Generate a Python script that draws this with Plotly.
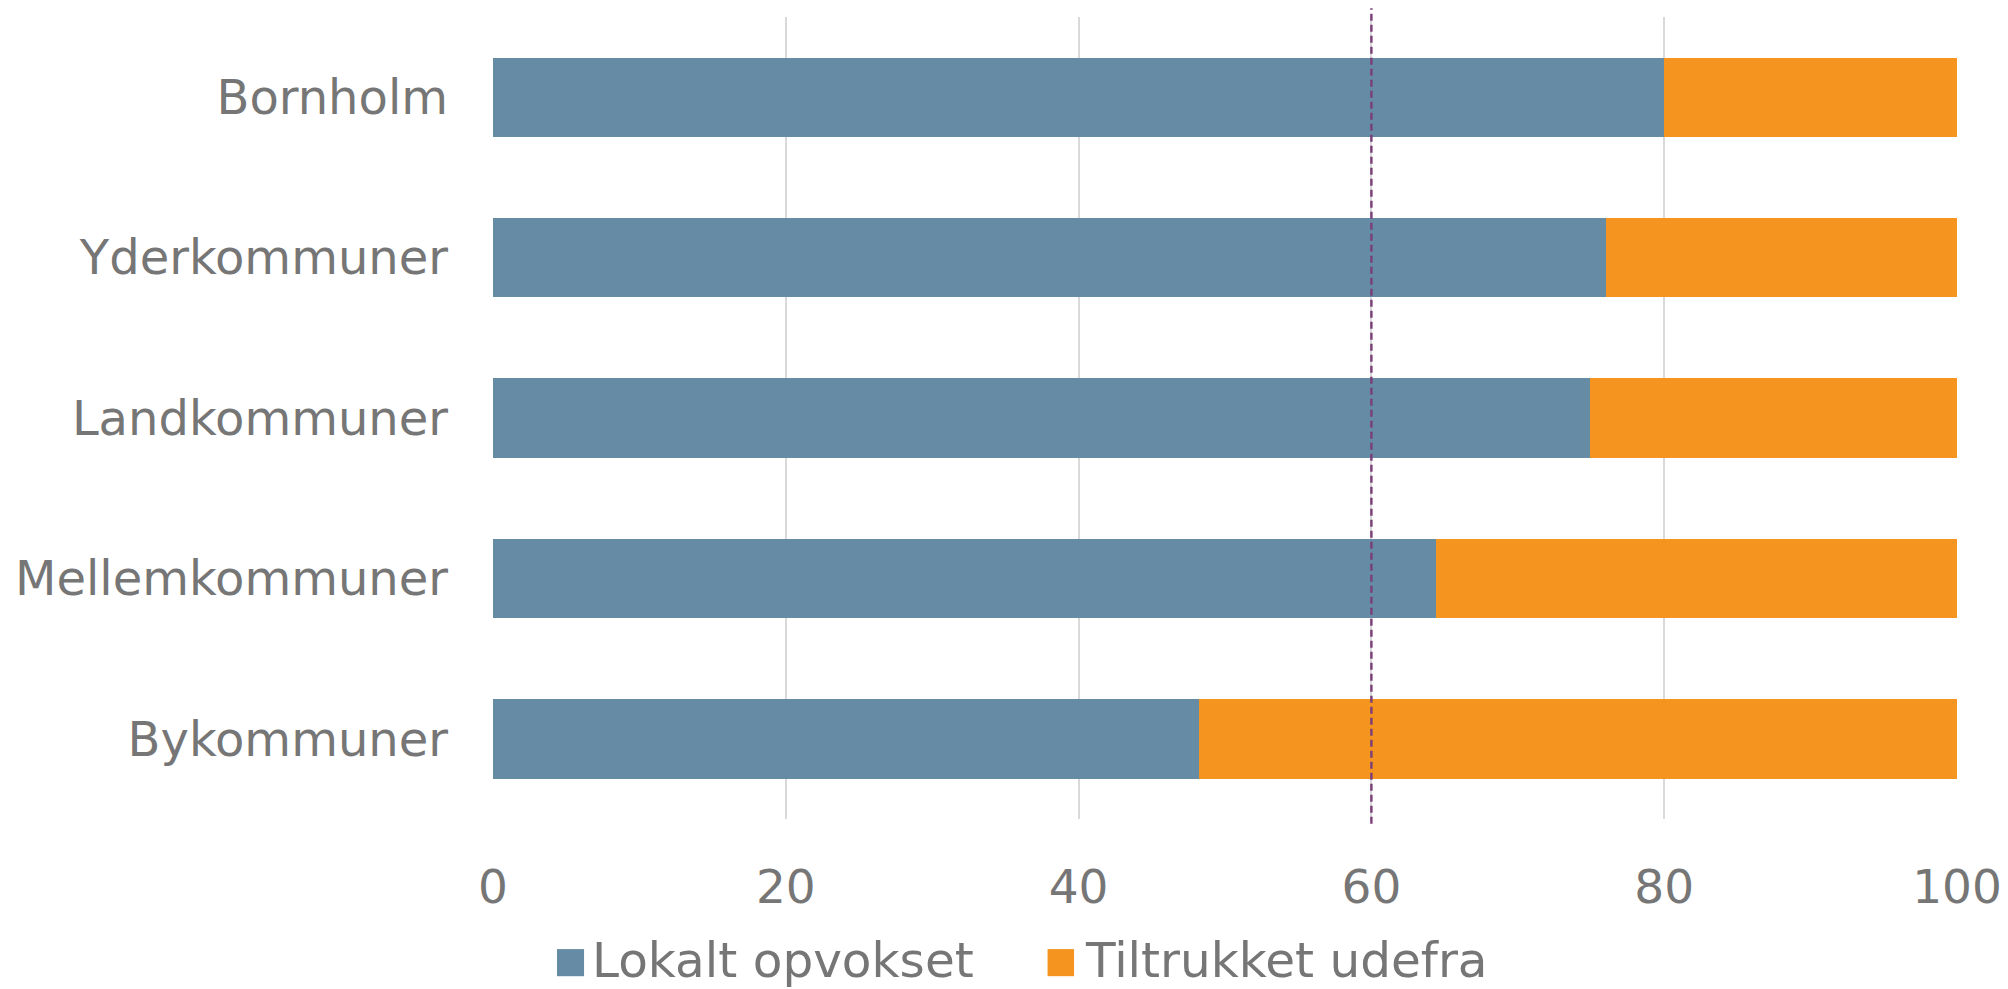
import plotly.graph_objects as go

categories = ["Bornholm", "Yderkommuner", "Landkommuner", "Mellemkommuner", "Bykommuner"]
lokalt = [80.0, 76.0, 74.9, 64.4, 48.2]
tiltrukket = [100 - v for v in lokalt]
reference_line = 60
x_ticks = [0, 20, 40, 60, 80, 100]
series_names = ["Lokalt opvokset", "Tiltrukket udefra"]

BLUE = "#668BA5"
ORANGE = "#F5951F"
GRAY_TXT = "#767676"
FONT = "DejaVu Sans"

fig = go.Figure()
fig.add_trace(go.Bar(y=categories, x=lokalt, orientation="h", name=series_names[0],
                     marker=dict(color=BLUE, line=dict(width=0))))
fig.add_trace(go.Bar(y=categories, x=tiltrukket, orientation="h", name=series_names[1],
                     marker=dict(color=ORANGE, line=dict(width=0))))

fig.add_shape(type="line", xref="x", yref="paper", x0=reference_line, x1=reference_line,
              y0=-0.006, y1=1.011, line=dict(color="#7A3E78", width=2.4, dash="7px,4px"))

# custom legend
leg_y0, leg_y1 = -0.1960, -0.1622
leg_items = [(series_names[0], BLUE, 0.0437, 0.0622, 0.0672),
             (series_names[1], ORANGE, 0.3788, 0.3969, 0.4035)]
for name, col, sx0, sx1, tx in leg_items:
    fig.add_shape(type="rect", xref="paper", yref="paper", x0=sx0, x1=sx1,
                  y0=leg_y0, y1=leg_y1, fillcolor=col, line=dict(width=0))
    fig.add_annotation(xref="paper", yref="paper", x=tx, y=-0.1763,
                       text=name, showarrow=False, xanchor="left", yanchor="middle",
                       borderpad=0, font=dict(family=FONT, size=48.5, color=GRAY_TXT))

fig.update_layout(
    barmode="stack",
    bargap=0.505,
    width=2008, height=989,
    margin=dict(l=493, r=51, t=17, b=170, pad=0, autoexpand=False),
    paper_bgcolor="white", plot_bgcolor="white",
    showlegend=False,
    font=dict(family=FONT, color=GRAY_TXT, size=47),
)
fig.update_xaxes(range=[0, 100], tickvals=x_ticks, showgrid=True, gridcolor="#D9D9D9",
                 gridwidth=1.5, zeroline=False, showline=False, ticks="",
                 ticklabeloverflow="allow", automargin=False,
                 ticklabelstandoff=36, tickfont=dict(size=47, color=GRAY_TXT, family=FONT))
fig.update_yaxes(autorange="reversed", showgrid=False, zeroline=False, showline=False,
                 ticks="", ticklabelstandoff=44, automargin=False,
                 tickfont=dict(size=48, color=GRAY_TXT, family=FONT))

fig.write_html("out.html", config={"displayModeBar": False},
               post_script="document.body.style.margin='0';document.body.style.overflow='hidden';")
